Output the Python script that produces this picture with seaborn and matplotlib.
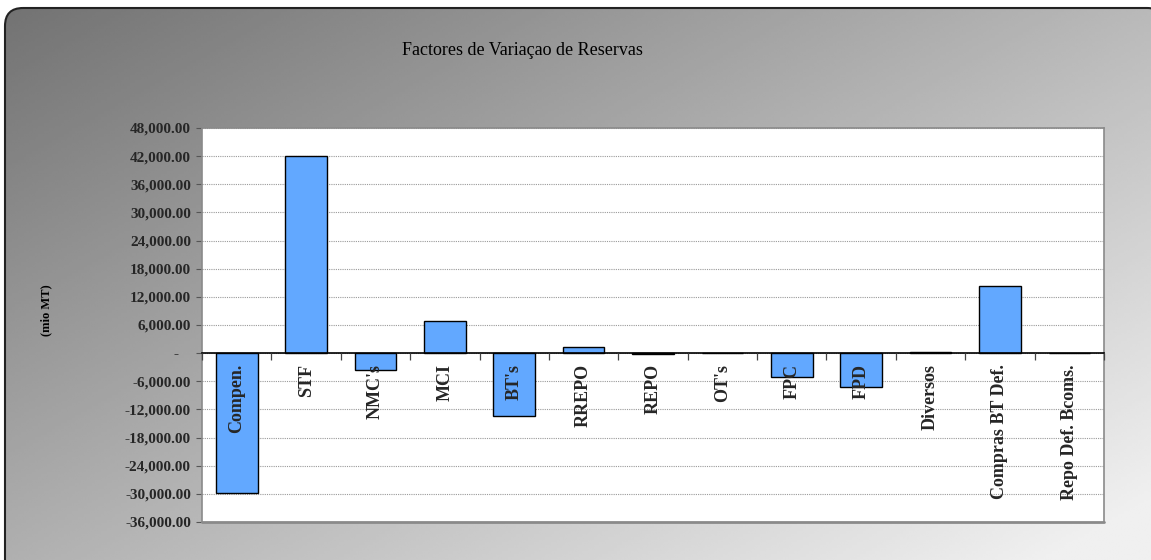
import numpy as np
import matplotlib
matplotlib.use("Agg")
import matplotlib.pyplot as plt
from matplotlib.patches import FancyBboxPatch
from matplotlib.ticker import FuncFormatter, MultipleLocator
import seaborn as sns

categories = ["Compen.", "STF", "NMC's", "MCI", "BT's", "RREPO", "REPO", "OT's",
              "FPC", "FPD", "Diversos", "Compras BT Def.", "Repo Def. Bcoms."]
values = [-29900, 42000, -3600, 6800, -13400, 1250, -250, 0,
          -5100, -7250, 300, 14300, 0]
title = "Factores de Variaçao de Reservas"
ylabel = "(mio MT)"
y_min, y_max, y_step = -36000, 48000, 6000

sns.set_theme(style="white")
plt.rcParams["font.family"] = ["Liberation Serif", "DejaVu Serif"]

fig = plt.figure(figsize=(11.51, 5.6), dpi=100)
fig.patch.set_facecolor("white")

# background gradient panel with rounded corners
bg = fig.add_axes([0, 0, 1, 1], zorder=0)
bg.set_xlim(0, 1151)
bg.set_ylim(560, 0)
bg.axis("off")
xx, yy = np.meshgrid(np.linspace(0, 1, 400), np.linspace(0, 1, 200))
t = np.clip((xx * 0.62 + yy * 0.55) / 1.1, 0, 1)
grad = 0.45 + (0.94 - 0.45) * t
im = bg.imshow(grad, cmap="gray", vmin=0, vmax=1, extent=[5, 1151, 575, 8],
               aspect="auto", interpolation="bilinear")
panel = FancyBboxPatch((5, 8), 1160, 580, boxstyle="round,pad=0,rounding_size=18",
                       facecolor="none", edgecolor="#222222", linewidth=1.5)
bg.add_patch(panel)
im.set_clip_path(panel)

ax = fig.add_axes([0.1755, 0.0679, 0.7837, 0.7036], zorder=1)
ax.set_facecolor("white")

sns.barplot(x=categories, y=values, color="#62a8ff", edgecolor="black",
            linewidth=1.0, width=0.6, saturation=1, ax=ax, zorder=3)

n = len(categories)
ax.set_xlim(-0.5, n - 0.5)
ax.set_ylim(y_min, y_max)
ax.yaxis.set_major_locator(MultipleLocator(y_step))
ax.yaxis.set_major_formatter(FuncFormatter(lambda v, p: "-   " if abs(v) < 1e-9 else f"{v:,.2f}"))
ax.grid(axis="y", color="#9a9a9a", linestyle=(0, (1, 1)), linewidth=0.8, zorder=0)
ax.grid(axis="x", visible=False)

ax.spines["bottom"].set_position(("data", 0))
ax.spines["bottom"].set_color("black")
ax.spines["bottom"].set_linewidth(1.2)
ax.spines["bottom"].set_zorder(4)
for s in ["left", "right", "top"]:
    ax.spines[s].set_color("#8a8a8a")
    ax.spines[s].set_linewidth(1.2)
ax.plot([0, 1], [0, 0], transform=ax.transAxes, color="#8a8a8a", lw=2.0, clip_on=False, zorder=5)

ax.set_xticks(np.arange(n))
ax.set_xticklabels(categories, rotation=90, fontsize=13, fontweight="bold", va="top", ha="center")
ax.set_xticks(np.arange(-0.5, n, 1), minor=True)
ax.tick_params(axis="x", which="major", bottom=True, length=0, pad=8)
ax.tick_params(axis="x", which="minor", bottom=True, length=5, width=0.9,
               color="#444444", direction="out")
ax.xaxis.set_zorder(6)
ax.tick_params(axis="y", which="major", left=True, length=4, width=0.8, color="#555555",
               labelsize=11, pad=4)
for lab in ax.get_yticklabels():
    lab.set_fontweight("bold")
ax.set_xlabel("")
ax.set_ylabel("")

fig.text(0.4535, 0.91, title, ha="center", va="center", fontsize=13, color="black")
fig.text(0.040, 0.446, ylabel, rotation=90, ha="center", va="center", fontsize=9,
         fontweight="bold", color="black")

fig.savefig("out.png", dpi=100, facecolor=fig.get_facecolor())
